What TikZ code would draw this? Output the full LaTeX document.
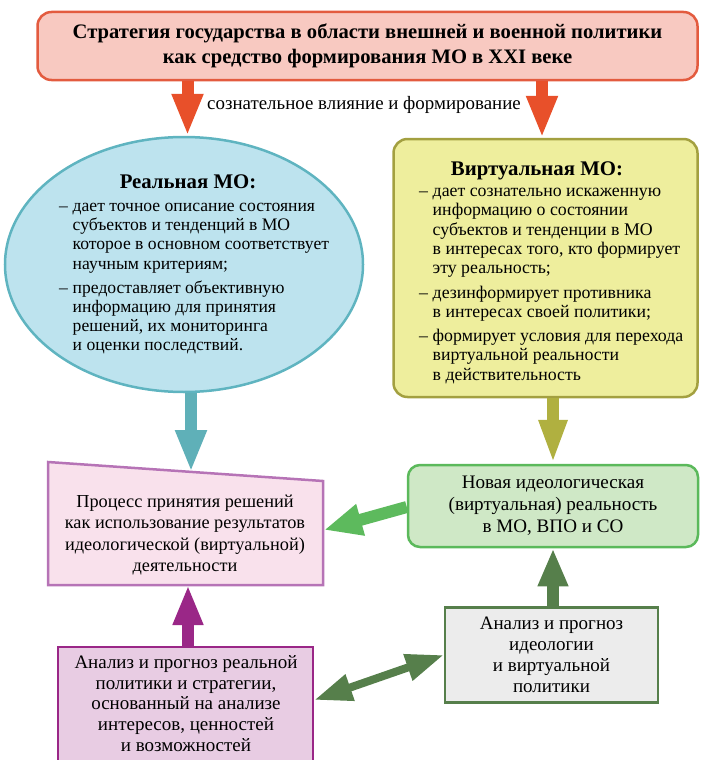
\documentclass[tikz,border=0pt]{standalone}
\usepackage{fontspec}
\setmainfont{Liberation Serif}
\usetikzlibrary{arrows.meta,shapes.geometric}
\definecolor{topfill}{HTML}{F8C9C1}
\definecolor{topline}{HTML}{E35B3F}
\definecolor{orarr}{HTML}{E8502A}
\definecolor{ellfill}{HTML}{BDE3EE}
\definecolor{ellline}{HTML}{5FB4C0}
\definecolor{tealarr}{HTML}{5FB0B8}
\definecolor{yelfill}{HTML}{EEEE9D}
\definecolor{yelline}{HTML}{A3A040}
\definecolor{olivearr}{HTML}{B0B040}
\definecolor{trapfill}{HTML}{F9E1EC}
\definecolor{trapline}{HTML}{B673B6}
\definecolor{grnfill}{HTML}{CFE8C6}
\definecolor{grnline}{HTML}{5BB95B}
\definecolor{grnarr}{HTML}{5DBA5D}
\definecolor{dgrn}{HTML}{567F4B}
\definecolor{grayfill}{HTML}{ECECEC}
\definecolor{purfill}{HTML}{E8CCE3}
\definecolor{purline}{HTML}{9A2787}
\tikzset{
  boxtext/.style={align=center, inner sep=0pt},
  listtext/.style={align=left, inner sep=0pt},
  headtext/.style={font=\bfseries\fontsize{20.8}{24}\selectfont, inner sep=0pt},
  blockarrow/.style={line width=12pt, -{Triangle[width=29pt,length=42pt]}},
}
\newcommand{\itm}[1]{\makebox[13.5pt][l]{–}#1}
\newcommand{\cnt}[1]{\hspace*{13.5pt}#1}
\begin{document}
\begin{tikzpicture}[x=1pt,y=-1pt]
\useasboundingbox (0,0) rectangle (701,760);
% top box
\node[draw=topline, fill=topfill, line width=2.5pt, rounded corners=14pt,
      minimum width=660pt, minimum height=68pt, align=center,
      font=\bfseries\fontsize{20.6}{25}\selectfont] (top) at (367.5,46)
  {Стратегия государства в области внешней и военной политики\\
   как средство формирования МО в XXI веке};
% ellipse
\node[ellipse, draw=ellline, fill=ellfill, line width=2.5pt,
      minimum width=358pt, minimum height=255pt] (ell) at (184,264.5) {};
\node[headtext] (ellhead) at (188,182) {Реальная МО:};
\node[listtext, anchor=north west, font=\fontsize{17.6}{19.2}\selectfont] (elllist) at (59,203)
  {\itm{дает точное описание состояния}\\
   \cnt{субъектов и тенденций в МО}\\
   \cnt{которое в основном соответствует}\\
   \cnt{научным критериям;}\\[5pt]
   \itm{предоставляет объективную}\\
   \cnt{информацию для принятия}\\
   \cnt{решений, их мониторинга}\\
   \cnt{и оценки последствий.}};
% virtual box
\node[draw=yelline, fill=yelfill, line width=2.5pt, rounded corners=14pt,
      minimum width=304pt, minimum height=258pt] (virt) at (545.5,268) {};
\node[headtext] (virthead) at (537,171) {Виртуальная МО:};
\node[listtext, anchor=north west, font=\fontsize{17.8}{19.3}\selectfont] (virtlist) at (419,188)
  {\itm{дает сознательно искаженную}\\
   \cnt{информацию о состоянии}\\
   \cnt{субъектов и тенденции в МО}\\
   \cnt{в интересах того, кто формирует}\\
   \cnt{эту реальность;}\\[5pt]
   \itm{дезинформирует противника}\\
   \cnt{в интересах своей политики;}\\[5pt]
   \itm{формирует условия для перехода}\\
   \cnt{виртуальной реальности}\\
   \cnt{в действительность}};
% arrows from top
\draw[blockarrow, orarr] ([xshift=3.5pt]top.south -| ell.north) -- ([xshift=3.5pt]ell.north);
\draw[blockarrow, orarr] ([xshift=-3.5pt]top.south -| virt.north) -- ([xshift=-3.5pt]virt.north);
\node[font=\fontsize{18.9}{22}\selectfont, inner sep=0pt] (lbl) at (364,105)
  {сознательное влияние и формирование};
% trapezoid
\coordinate (p1) at (48,462);
\coordinate (p2) at (323,481);
\coordinate (p3) at (323,585);
\coordinate (p4) at (48,585);
\draw[draw=trapline, fill=trapfill, line width=2.5pt] (p1) -- (p2) -- (p3) -- (p4) -- cycle;
\node[boxtext, font=\fontsize{18.3}{21.5}\selectfont] (proc) at (185,535)
  {Процесс принятия решений\\
   как использование результатов\\
   идеологической (виртуальной)\\
   деятельности};
\coordinate (ptop) at (191,472);
\coordinate (pright) at (324,530);
% green box
\node[draw=grnline, fill=grnfill, line width=2.5pt, rounded corners=12pt,
      minimum width=290pt, minimum height=82pt, boxtext,
      font=\fontsize{19.1}{21.8}\selectfont] (ideo) at (553,506)
  {Новая идеологическая\\(виртуальная) реальность\\в МО, ВПО и СО};
% gray box
\node[draw=dgrn, fill=grayfill, line width=2.5pt,
      minimum width=213pt, minimum height=95pt, boxtext,
      font=\fontsize{19}{21}\selectfont] (anal) at (551.5,655)
  {Анализ и прогноз\\идеологии\\и виртуальной\\политики};
% purple box
\node[draw=purline, fill=purfill, line width=2.5pt,
      minimum width=255pt, minimum height=125pt] (real) at (185.5,709.5) {};
\node[boxtext, font=\fontsize{19}{20.6}\selectfont] (realtext) at (186,703.5)
  {Анализ и прогноз реальной\\политики и стратегии,\\основанный на анализе\\интересов, ценностей\\и возможностей};
% connectors
\draw[blockarrow, tealarr] (ell.south -| ptop) -- (ptop);
\draw[blockarrow, olivearr, -{Triangle[width=26pt,length=44pt]}] (ideo.north |- virt.south) -- (ideo.north);
\draw[line width=12pt, grnarr, -{Triangle[width=30pt,length=38pt]}] ([yshift=-1pt]ideo.west) -- (pright);
\draw[line width=12pt, dgrn, -{Triangle[width=28pt,length=38pt]}] (ideo.south |- anal.north) -- (ideo.south);
\draw[line width=12pt, purline, -{Triangle[width=28pt,length=40pt]}] ([xshift=2.5pt]real.north) -- ([xshift=2.5pt]real.north |- p4);
\draw[line width=8pt, dgrn, {Triangle[width=26pt,length=38pt]}-{Triangle[width=26pt,length=38pt]}] ([yshift=9.5pt]real.east) -- (anal.west);
\end{tikzpicture}
\end{document}
